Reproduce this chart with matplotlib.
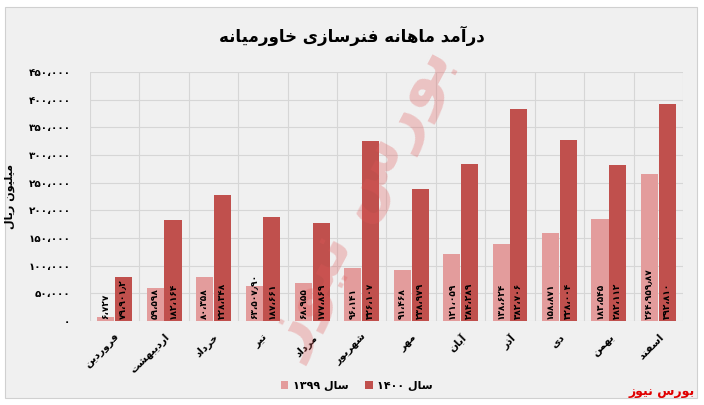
import numpy as np
import matplotlib
matplotlib.use("Agg")
import matplotlib.pyplot as plt
from matplotlib.patches import Rectangle

# ---- data ----
months = ["فروردین", "اردیبهشت", "خرداد", "تیر", "مرداد", "شهریور",
          "مهر", "آبان", "آذر", "دی", "بهمن", "اسفند"]
sales_1399 = [6727, 59598, 80358, 63507.9, 68955, 96141,
              91468, 121059, 138624, 158871, 183545, 264959.87]
sales_1400 = [79901.2, 182164, 228348, 187661, 177869, 326107,
              238979, 284289, 382706, 328004, 282112, 392810]
labels_1399 = ["6,727", "59,598", "80,358", "63,507.90", "68,955", "96,141",
               "91,468", "121,059", "138,624", "158,871", "183,545", "264,959.87"]
labels_1400 = ["79,901.2", "182,164", "228,348", "187,661", "177,869", "326,107",
               "238,979", "284,289", "382,706", "328,004", "282,112", "392,810"]
yticks = [0, 50000, 100000, 150000, 200000, 250000, 300000, 350000, 400000, 450000]

title = "درآمد ماهانه فنرسازی خاورمیانه"
ylabel = "میلیون ریال"
series_names = ["سال ۱۳۹۹", "سال ۱۴۰۰"]
source = "بورس نیوز"

# ---- crude arabic/persian shaping (no reshaper lib available) ----
# isolated, final, initial, medial
FORMS = {
    'ا': (0xFE8D, 0xFE8E, None, None), 'آ': (0xFE81, 0xFE82, None, None),
    'ب': (0xFE8F, 0xFE90, 0xFE91, 0xFE92), 'ت': (0xFE95, 0xFE96, 0xFE97, 0xFE98),
    'ث': (0xFE99, 0xFE9A, 0xFE9B, 0xFE9C), 'ج': (0xFE9D, 0xFE9E, 0xFE9F, 0xFEA0),
    'ح': (0xFEA1, 0xFEA2, 0xFEA3, 0xFEA4), 'خ': (0xFEA5, 0xFEA6, 0xFEA7, 0xFEA8),
    'د': (0xFEA9, 0xFEAA, None, None), 'ذ': (0xFEAB, 0xFEAC, None, None),
    'ر': (0xFEAD, 0xFEAE, None, None), 'ز': (0xFEAF, 0xFEB0, None, None),
    'س': (0xFEB1, 0xFEB2, 0xFEB3, 0xFEB4), 'ش': (0xFEB5, 0xFEB6, 0xFEB7, 0xFEB8),
    'ص': (0xFEB9, 0xFEBA, 0xFEBB, 0xFEBC), 'ض': (0xFEBD, 0xFEBE, 0xFEBF, 0xFEC0),
    'ط': (0xFEC1, 0xFEC2, 0xFEC3, 0xFEC4), 'ظ': (0xFEC5, 0xFEC6, 0xFEC7, 0xFEC8),
    'ع': (0xFEC9, 0xFECA, 0xFECB, 0xFECC), 'غ': (0xFECD, 0xFECE, 0xFECF, 0xFED0),
    'ف': (0xFED1, 0xFED2, 0xFED3, 0xFED4), 'ق': (0xFED5, 0xFED6, 0xFED7, 0xFED8),
    'ل': (0xFEDD, 0xFEDE, 0xFEDF, 0xFEE0), 'م': (0xFEE1, 0xFEE2, 0xFEE3, 0xFEE4),
    'ن': (0xFEE5, 0xFEE6, 0xFEE7, 0xFEE8), 'ه': (0xFEE9, 0xFEEA, 0xFEEB, 0xFEEC),
    'و': (0xFEED, 0xFEEE, None, None),
    'پ': (0xFB56, 0xFB57, 0xFB58, 0xFB59), 'چ': (0xFB7A, 0xFB7B, 0xFB7C, 0xFB7D),
    'ژ': (0xFB8A, 0xFB8B, None, None), 'ک': (0xFB8E, 0xFB8F, 0xFB90, 0xFB91),
    'گ': (0xFB92, 0xFB93, 0xFB94, 0xFB95), 'ی': (0xFBFC, 0xFBFD, 0xFBFE, 0xFBFF),
}
DIGITS = str.maketrans("0123456789,.", "۰۱۲۳۴۵۶۷۸۹،٫")


def shape_word(w):
    out = []
    for i, ch in enumerate(w):
        if ch not in FORMS:
            out.append(ch)
            continue
        prev = w[i - 1] if i > 0 else None
        nxt = w[i + 1] if i + 1 < len(w) else None
        join_prev = prev in FORMS and FORMS[prev][2] is not None
        join_next = nxt in FORMS and FORMS[ch][2] is not None
        f = FORMS[ch]
        if join_prev and join_next:
            out.append(chr(f[3]))
        elif join_prev:
            out.append(chr(f[1]))
        elif join_next:
            out.append(chr(f[2]))
        else:
            out.append(chr(f[0]))
    return "".join(out)


def fa(text):
    # visual order: words reversed, letters reversed, digits kept
    words = text.split(" ")
    vis = []
    for w in reversed(words):
        if any(c in FORMS for c in w):
            vis.append(shape_word(w)[::-1])
        else:
            vis.append(w)
    return " ".join(vis)


def fa_num(s):
    return s.translate(DIGITS)


plt.rcParams['font.family'] = ['DejaVu Sans']

fig = plt.figure(figsize=(7.04, 4.05), dpi=100)
fig.patch.set_facecolor("white")
fig.patches.append(Rectangle((5 / 704, 7 / 405), 692 / 704, 391 / 405, transform=fig.transFigure,
                             facecolor="#f0f0f0", edgecolor="#d0d0d0", lw=0.8, zorder=-10))

ax = fig.add_axes([90 / 704, 84 / 405, 593 / 704, 249 / 405])
ax.set_facecolor("#f0f0f0")

x = np.arange(len(months))
w = 0.345
c99 = "#e39c9c"
c00 = "#c0504d"
ax.bar(x - 0.18, sales_1399, w, color=c99, label=fa(series_names[0]), zorder=3)
ax.bar(x + 0.18, sales_1400, w, color=c00, label=fa(series_names[1]), zorder=3)

for xi, lab in zip(x, labels_1399):
    ax.text(xi - 0.18, 3000, fa_num(lab), rotation=90, ha="center", va="bottom",
            fontsize=6.5, fontweight="bold", zorder=5)
for xi, lab in zip(x, labels_1400):
    ax.text(xi + 0.18, 3000, fa_num(lab), rotation=90, ha="center", va="bottom",
            fontsize=6.5, fontweight="bold", zorder=5)

ax.set_xlim(-0.5, len(months) - 0.5)
ax.set_ylim(0, 450000)
ax.set_yticks(yticks)
ax.set_yticklabels([fa_num(f"{v:,}") for v in yticks], fontsize=7.5, fontweight="bold")
ax.set_xticks(x)
ax.set_xticklabels([fa(m) for m in months], rotation=45, ha="right", rotation_mode="anchor",
                   fontsize=7.5, fontweight="bold")
ax.set_xticks(np.arange(-0.5, len(months), 1), minor=True)
ax.tick_params(which="both", length=0)
ax.tick_params(axis="y", pad=14)
ax.tick_params(axis="x", pad=8)
ax.grid(axis="y", which="major", color="#d6d6d6", lw=0.8, zorder=0)
ax.grid(axis="x", which="minor", color="#d6d6d6", lw=0.8, zorder=0)
for s in ax.spines.values():
    s.set_visible(False)

ax.set_ylabel(fa(ylabel), fontsize=8, fontweight="bold", labelpad=10)

fig.text(0.5, 1 - 36 / 405, fa(title), ha="center", va="center", fontsize=12, fontweight="bold")

# faint watermark
ax.text(5.0, 215000, fa(source), rotation=62, ha="center", va="center", fontsize=46,
        fontweight="bold", color="#e05a5a", alpha=0.3, zorder=4)

ax.legend(loc="upper center", bbox_to_anchor=(0.45, -0.2), ncol=2, frameon=False,
          prop={"weight": "bold", "size": 8}, handlelength=0.7, handleheight=0.7,
          columnspacing=1.5, handletextpad=0.4)

fig.text(695 / 704, 1 - 392 / 405, fa(source), ha="right", va="center", fontsize=9,
         fontweight="bold", color="#e00000")

fig.savefig("out.png", dpi=100, facecolor=fig.get_facecolor())
